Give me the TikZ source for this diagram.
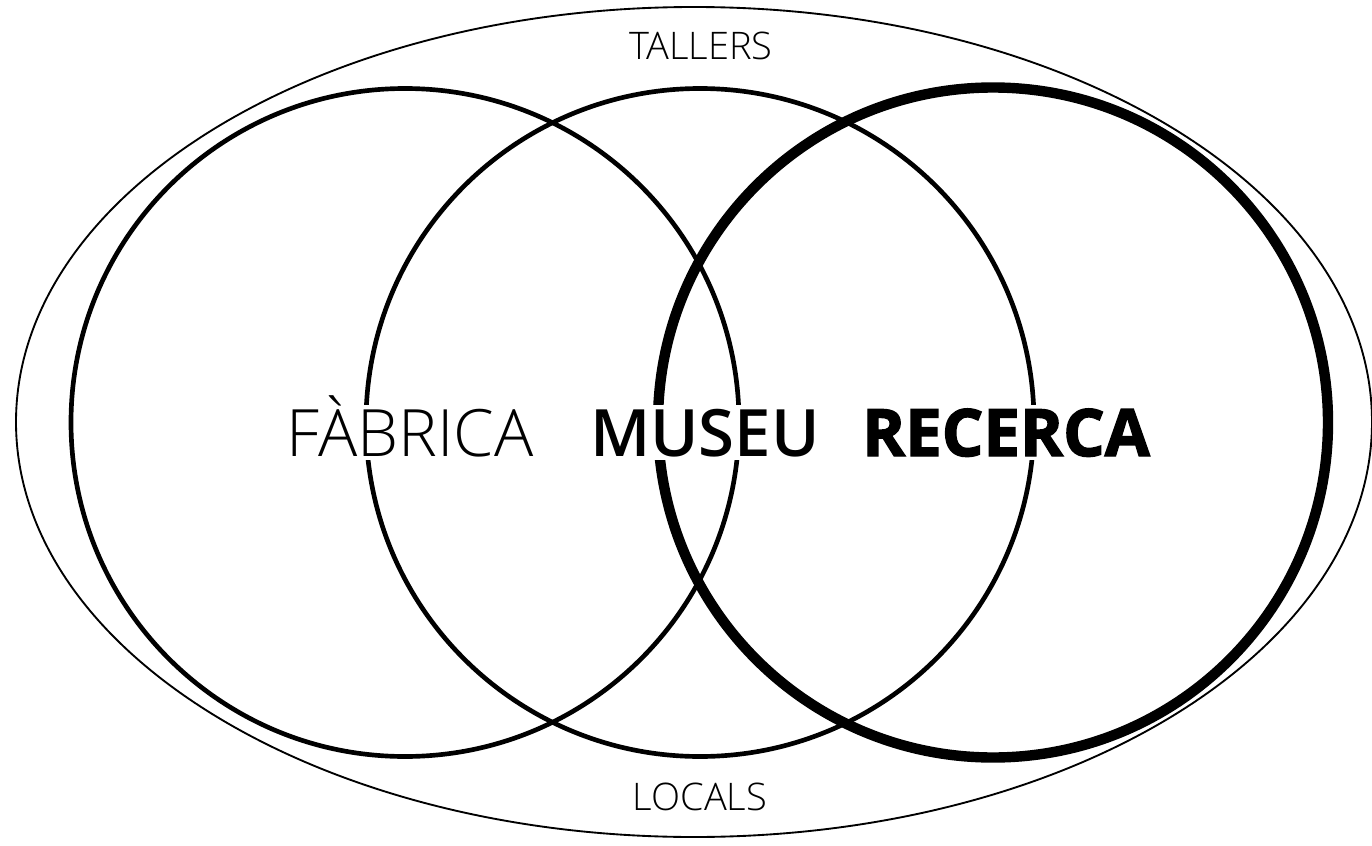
\documentclass[tikz,border=0pt]{standalone}
\usepackage{fontspec}
\setmainfont{Open Sans}
\newfontfamily\oslight{Open Sans Light}
\newfontfamily\ossemi{Open Sans Semibold}
\newfontfamily\osxbold{Open Sans}[BoldFeatures={FakeBold=2.2}]
\tikzset{
  outerring/.style={line width=1.4pt},
  ring/.style={line width=3.5pt},
  thickring/.style={line width=7.8pt},
  biglabel/.style={anchor=base, fill=white, inner sep=0pt, inner xsep=2pt, text height=38pt, text depth=3pt, font=\fontsize{49pt}{55pt}\selectfont},
  smalllabel/.style={anchor=base, inner sep=0pt, font=\oslight\fontsize{28.5pt}{32pt}\selectfont}
}
\begin{document}
\begin{tikzpicture}[x=0.75pt,y=-0.75pt]
\useasboundingbox (0,0) rectangle (1372,846);
\draw[outerring] (694,422) ellipse [x radius=678, y radius=415];
\draw[ring] (405,422.5) circle [radius=334];
\draw[ring] (700,422.5) circle [radius=334];
\draw[thickring] (993,422.5) circle [radius=335];
\node[biglabel] (fab) at (410,456) {\oslight FÀBRICA};
\node[biglabel] (mus) at (705,456) {\ossemi MUSEU};
\node[biglabel] (rec) at (1006,456) {\osxbold\bfseries RECERCA};
\node[smalllabel] (tal) at (701,60) {TALLERS};
\node[smalllabel] (loc) at (700,810) {LOCALS};
\end{tikzpicture}
\end{document}
